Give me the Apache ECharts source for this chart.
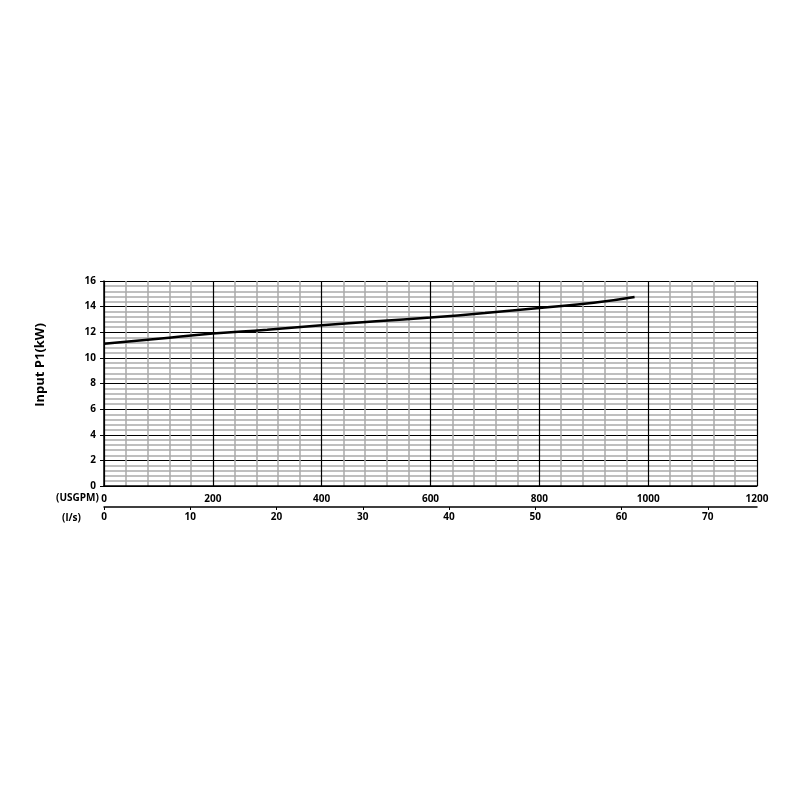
<!DOCTYPE html>
<html>
<head>
<meta charset="utf-8">
<script src="https://cdn.jsdelivr.net/npm/echarts@6/dist/echarts.min.js"></script>
<style>html,body{margin:0;padding:0;background:#fff;}#c{width:800px;height:800px;}</style>
</head>
<body>
<div id="c"></div>
<script>
// Flow in USGPM and input power P1 in kW
const flowUSGPM = [0, 100, 200, 300, 400, 500, 600, 700, 800, 900, 975];
const powerKW   = [11.1, 11.5, 11.9, 12.2, 12.55, 12.85, 13.15, 13.5, 13.9, 14.3, 14.75];
const usgpmPerLs = 15.85;
const xMaxUSGPM = 1200;
const yTitle = 'Input P1(kW)';
const xUnitLabel1 = '(USGPM)';
const xUnitLabel2 = '(l/s)';

const font = '"Open Sans", "Liberation Sans", sans-serif';
const chart = echarts.init(document.getElementById('c'));
const lblStyle = {color: '#000', fontWeight: 'bold', fontSize: 10, fontFamily: font, formatter: v => String(v)};

chart.setOption({
  animation: false,
  backgroundColor: '#fff',
  grid: {left: 104, right: 43, top: 281, height: 205},
  xAxis: [{
    type: 'value', min: 0, max: xMaxUSGPM, interval: 200, position: 'bottom',
    axisLine: {show: true, onZero: false, lineStyle: {color: '#000', width: 1.5}},
    axisTick: {show: false},
    axisLabel: Object.assign({margin: 8}, lblStyle),
    splitLine: {show: true, lineStyle: {color: '#000', width: 1.2}},
    minorTick: {show: false, splitNumber: 5},
    minorSplitLine: {show: true, lineStyle: {color: '#aaaaaa', width: 1.5}}
  }, {
    type: 'value', min: 0, max: xMaxUSGPM / usgpmPerLs, interval: 10, position: 'bottom', offset: 21,
    axisLine: {show: true, onZero: false, lineStyle: {color: '#000', width: 1.5}},
    axisTick: {show: true, length: 3, lineStyle: {color: '#000'}},
    axisLabel: Object.assign({margin: 5, showMaxLabel: false}, lblStyle),
    splitLine: {show: false}
  }],
  yAxis: {
    type: 'value', min: 0, max: 16, interval: 2,
    axisLine: {show: true, lineStyle: {color: '#000', width: 1.5}},
    axisTick: {show: true, length: 4, lineStyle: {color: '#000'}},
    axisLabel: Object.assign({margin: 8}, lblStyle),
    splitLine: {show: true, lineStyle: {color: '#000', width: 1.2}},
    minorTick: {show: false, splitNumber: 5},
    minorSplitLine: {show: true, lineStyle: {color: '#aaaaaa', width: 1.5}}
  },
  graphic: [
    {type: 'text', x: 40, y: 365, rotation: Math.PI / 2,
     style: {text: yTitle, fill: '#000', font: 'bold 13px ' + font, textAlign: 'center', textVerticalAlign: 'middle'}},
    {type: 'text', left: 56, top: 493, style: {text: xUnitLabel1, fill: '#000', font: 'bold 10px ' + font}},
    {type: 'text', left: 62, top: 513, style: {text: xUnitLabel2, fill: '#000', font: 'bold 10px ' + font}}
  ],
  series: [{
    type: 'line', xAxisIndex: 0, yAxisIndex: 0, smooth: true, symbol: 'none',
    lineStyle: {color: '#000', width: 2.5},
    data: flowUSGPM.map((x, i) => [x, powerKW[i]])
  }]
});
</script>
</body>
</html>
